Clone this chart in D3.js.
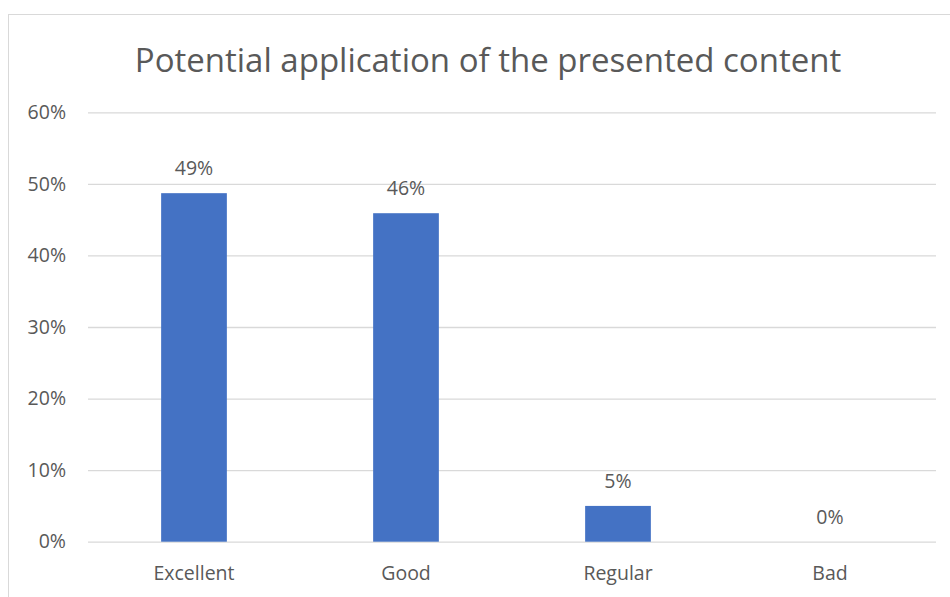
<!DOCTYPE html>
<html>
<head>
<meta charset="utf-8">
<script src="https://cdn.jsdelivr.net/npm/d3@7"></script>
<style>
  html, body { margin: 0; padding: 0; background: #fff; }
  svg { display: block; }
  text { font-family: "Open Sans", "Noto Sans", sans-serif; fill: #595959; }
</style>
</head>
<body>
<svg id="chart" width="950" height="597"></svg>
<script>
const title = "Potential application of the presented content";
const categories = ["Excellent", "Good", "Regular", "Bad"];
const values = [0.487, 0.459, 0.050, 0.0];
const valueLabels = ["49%", "46%", "5%", "0%"];
const yTicks = [0, 0.1, 0.2, 0.3, 0.4, 0.5, 0.6];

const svg = d3.select("#chart");
const W = 950, H = 597;
const margin = { left: 88, right: 14, top: 112.3, bottom: 55.3 };
const fs = 19.5;

svg.append("rect")
  .attr("x", 8.5).attr("y", 14.5)
  .attr("width", W).attr("height", H)
  .attr("fill", "#fff").attr("stroke", "#d9d9d9").attr("stroke-width", 1);

const x = d3.scaleBand()
  .domain(categories)
  .range([margin.left, W - margin.right])
  .paddingInner(0.69)
  .paddingOuter(0.345);

const y = d3.scaleLinear()
  .domain([0, 0.6])
  .range([H - margin.bottom, margin.top]);

// gridlines
const grid = svg.append("g")
  .attr("transform", `translate(${margin.left},0)`)
  .call(d3.axisLeft(y).tickValues(yTicks).tickSize(-(W - margin.right - margin.left)).tickFormat(""));
grid.select(".domain").remove();
grid.selectAll("line").attr("stroke", "#d9d9d9").attr("stroke-width", 1.3);

// y labels
const yAxis = svg.append("g")
  .attr("transform", `translate(${margin.left - 22},0)`)
  .call(d3.axisLeft(y).tickValues(yTicks).tickSize(0).tickPadding(0).tickFormat(d3.format(".0%")));
yAxis.select(".domain").remove();
yAxis.selectAll("text").attr("font-size", fs).attr("font-family", "Open Sans").attr("fill", "#595959");

// bars
svg.append("g").selectAll("rect")
  .data(categories)
  .join("rect")
  .attr("x", d => x(d))
  .attr("width", x.bandwidth())
  .attr("y", (d, i) => y(values[i]))
  .attr("height", (d, i) => y(0) - y(values[i]))
  .attr("fill", "#4472c4");

// x labels
const xAxis = svg.append("g")
  .attr("transform", `translate(0,${y(0)})`)
  .call(d3.axisBottom(x).tickSize(0).tickPadding(24));
xAxis.select(".domain").remove();
xAxis.selectAll("text").attr("font-size", fs).attr("font-family", "Open Sans").attr("fill", "#595959");

// data labels
svg.append("g").selectAll("text")
  .data(categories)
  .join("text")
  .attr("x", d => x(d) + x.bandwidth() / 2)
  .attr("y", (d, i) => y(values[i]) - 18)
  .attr("text-anchor", "middle")
  .attr("font-size", fs)
  .text((d, i) => valueLabels[i]);

// title
svg.append("text")
  .attr("x", 488)
  .attr("y", 72)
  .attr("text-anchor", "middle")
  .attr("font-size", 33)
  .text(title);
</script>
</body>
</html>
